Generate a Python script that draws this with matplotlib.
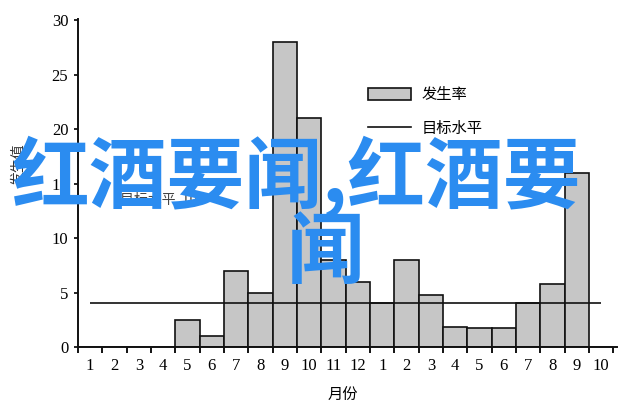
import matplotlib
matplotlib.use("Agg")
import matplotlib.pyplot as plt
import numpy as np
from matplotlib.patches import Patch
from matplotlib.lines import Line2D

# ---- data ----
month_labels = ["1", "2", "3", "4", "5", "6", "7", "8", "9", "10", "11", "12",
                "1", "2", "3", "4", "5", "6", "7", "8", "9", "10"]
rate = [0, 0, 0, 0, 2.5, 1, 7, 5, 28, 21, 8, 6,
        4, 8, 4.8, 1.8, 1.7, 1.7, 4, 5.8, 16, 0]
target = 4.05
y_ticks = [0, 5, 10, 15, 20, 25, 30]

W, H = 640, 419
fig = plt.figure(figsize=(W / 100, H / 100), dpi=100)
ax = fig.add_axes([78 / W, 1 - 347 / H, (617 - 78) / W, (347 - 19) / H])

serif = ["Liberation Serif", "DejaVu Serif"]
cjk = ["Noto Sans CJK SC", "DejaVu Sans"]

x = np.arange(1, len(month_labels) + 1)
ax.bar(x, rate, width=1.0, color="#c6c6c6", edgecolor="#111111", linewidth=1.2, zorder=2)
ax.hlines(target, x[0], x[-1], color="#111111", linewidth=1.2, zorder=3)

ax.set_xlim(0.5, 22.65)
ax.set_ylim(0, 30.1)
for s in ("top", "right"):
    ax.spines[s].set_visible(False)
for s in ("left", "bottom"):
    ax.spines[s].set_linewidth(1.4)
    ax.spines[s].set_color("#111111")

ax.set_xticks(x)
ax.set_xticklabels(month_labels, fontfamily=serif, fontsize=12)
ax.set_xticks(np.arange(0.5, len(month_labels) + 1, 1.0), minor=True)
ax.tick_params(axis="x", which="major", length=0, pad=8)
ax.tick_params(axis="x", which="minor", length=4, width=1.3, direction="out")
ax.set_yticks(y_ticks)
ax.set_yticklabels([str(v) for v in y_ticks], fontfamily=serif, fontsize=12)
ax.tick_params(axis="y", length=3, width=1.2, pad=4)

# legend
handles = [Patch(facecolor="#c6c6c6", edgecolor="#111111", linewidth=1.2),
           Line2D([0], [0], color="#111111", linewidth=1.2)]
leg = ax.legend(handles, ["发生率", "目标水平"], loc="upper left",
                bbox_to_anchor=(368 / W, 1 - 86 / H), bbox_transform=fig.transFigure,
                frameon=False, borderpad=0, borderaxespad=0, handlelength=2.8,
                handleheight=0.85, handletextpad=0.7, labelspacing=1.1,
                prop={"family": cjk, "size": 11})

# axis labels (y label mostly hidden behind the watermark)
fig.text(328 / W, 1 - 395 / H, "月份", fontfamily=cjk, fontsize=11, va="center", ha="left")
fig.text(18 / W, 1 - 143 / H, "发生值", fontfamily=cjk, fontsize=10, rotation=90,
         va="top", ha="center", color="#333333")
# stray scanned text under the watermark
fig.text(120 / W, 1 - 200 / H, "目标水平  10", fontfamily=cjk, fontsize=10,
         va="center", ha="left", color="#444444")

# blue watermark title
blue = "#2b8cf0"
fig.text(12 / W, 1 - 177 / H, "红酒要闻,红酒要", fontfamily=cjk, fontsize=56,
         fontweight="bold", color=blue, va="center", ha="left", zorder=10)
fig.text(287 / W, 1 - 254 / H, "闻", fontfamily=cjk, fontsize=56,
         fontweight="bold", color=blue, va="center", ha="left", zorder=10)

fig.savefig("out.png", dpi=100)
